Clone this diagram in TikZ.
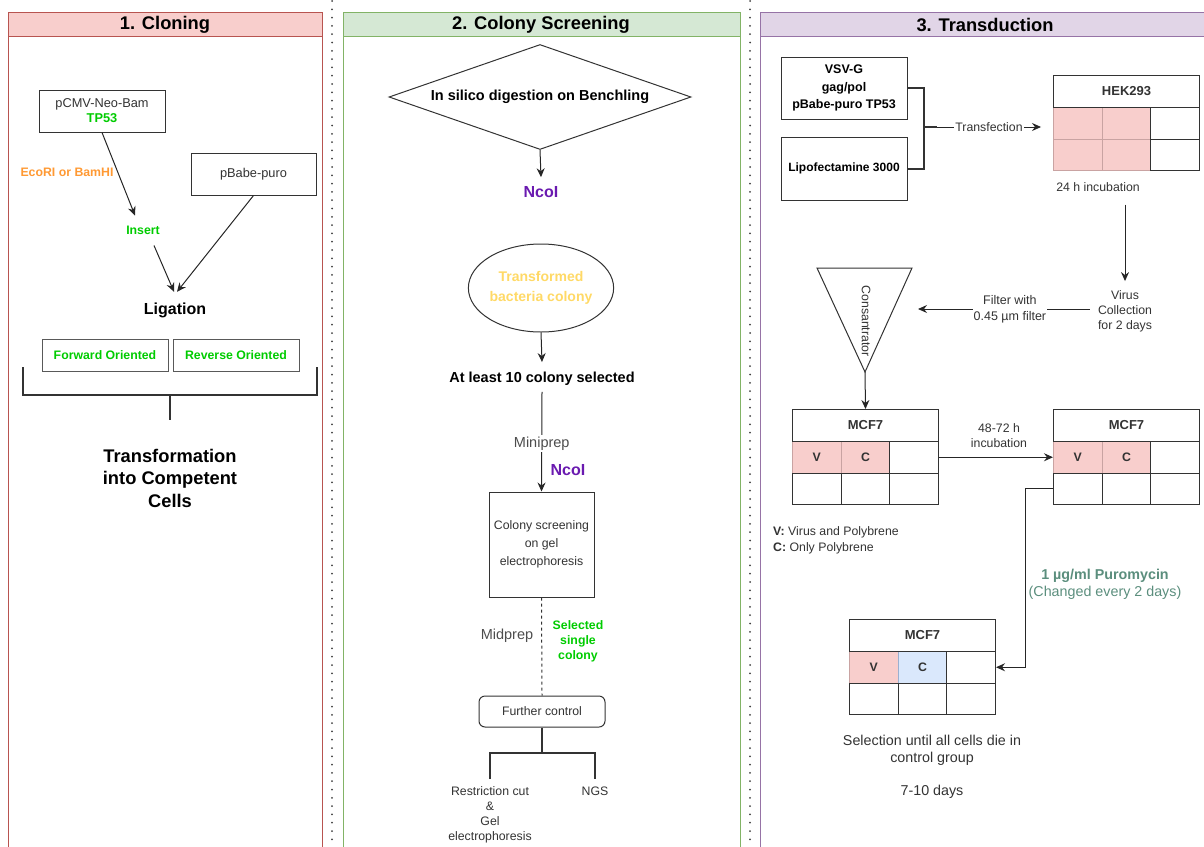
\documentclass[tikz,border=0pt]{standalone}
\usepackage{fontspec}
\setmainfont{Liberation Sans}
\usetikzlibrary{shapes.geometric,arrows.meta,calc}
\definecolor{c333}{HTML}{333333}
\definecolor{gray4d}{HTML}{4D4D4D}
\definecolor{pinkF}{HTML}{F8CECC}
\definecolor{pinkS}{HTML}{B85450}
\definecolor{greenF}{HTML}{D5E8D4}
\definecolor{greenS}{HTML}{82B366}
\definecolor{purpF}{HTML}{E1D5E7}
\definecolor{purpS}{HTML}{9673A6}
\definecolor{blueF}{HTML}{DAE8FC}
\definecolor{blueS}{HTML}{9AB0D0}
\definecolor{grn}{HTML}{00CC00}
\definecolor{orng}{HTML}{FF9933}
\definecolor{ncoi}{HTML}{6A1AB0}
\definecolor{ylw}{HTML}{FFD966}
\definecolor{puroC}{HTML}{5B8E7D}
\definecolor{wellS}{HTML}{C9A3A2}
\newcommand\fsz[2]{\fontsize{#1}{#2}\selectfont}
\begin{document}
\begin{tikzpicture}[x=1pt,y=-1pt,
  txt/.style={inner sep=0pt, align=center, text=c333, font=\fsz{12.3}{15}},
  btxt/.style={inner sep=0pt, align=center, font=\bfseries\fsz{12.3}{15}},
  box/.style={draw=c333, line width=1pt, inner sep=0pt, align=center, fill=white},
  arr/.style={draw=black!85, line width=1pt, -{Stealth[length=9pt,width=8pt,inset=3pt]}},
  tree/.style={draw=black!80, line width=2pt},
  ttl/.style={font=\bfseries\fsz{18.3}{22}, inner sep=0pt},
  hdr/.style={box, minimum width=146pt, minimum height=32pt, font=\bfseries\fsz{13}{15}, text=c333, anchor=north west},
  wc/.style={box, minimum width=48.67pt, minimum height=31.5pt, font=\bfseries\fsz{12.3}{15}, text=c333, anchor=north west},
  pk/.style={wc, fill=pinkF, draw=wellS},
  bl/.style={wc, fill=blueF, draw=blueS},
  dotsep/.style={draw=black!75, line width=2pt, line cap=round, dash pattern=on 0pt off 8.3pt}
]
\useasboundingbox (0,0) rectangle (1204,846);

% separators
\draw[dotsep] (332,1) -- (332,846);
\draw[dotsep] (750,1) -- (750,846);

% panels
\draw[pinkS, line width=1pt] (8,12) rectangle (322,852);
\filldraw[fill=pinkF, draw=pinkS, line width=1pt] (8,12) rectangle (322,36);
\node[ttl] (t1) at (165,25) {1. Cloning};
\draw[greenS, line width=1pt] (343,12) rectangle (740,852);
\filldraw[fill=greenF, draw=greenS, line width=1pt] (343,12) rectangle (740,36);
\node[ttl] (t2) at (541,25) {2. Colony Screening};
\draw[purpS, line width=1pt] (760,12) rectangle (1212,852);
\filldraw[fill=purpF, draw=purpS, line width=1pt] (760,12) rectangle (1212,36);
\node[ttl] (t3) at (985,25) {3. Transduction};

% ---------- Panel 1 ----------
\node[box, minimum width=126pt, minimum height=42pt, font=\fsz{12.8}{15}, text=c333] (pcmv) at (102,111) {pCMV-Neo-Bam\\\textcolor{grn}{\bfseries TP53}};
\node[box, minimum width=125pt, minimum height=42pt, font=\fsz{12.8}{15}, text=c333] (pbabe) at (253.5,174) {pBabe-puro};
\node[btxt, text=orng] (eco) at (67,172) {EcoRI or BamHI};
\node[btxt, text=grn] (ins) at (143,230) {Insert};
\node[inner sep=0pt, font=\bfseries\fsz{16}{19}] (lig) at (175,310.5) {Ligation};
\draw[arr] (pcmv.south) -- ([xshift=-8pt,yshift=10pt]ins.north);
\draw[arr] ([xshift=11pt,yshift=-11pt]ins.south) -- ([xshift=-1pt,yshift=11pt]lig.north);
\draw[arr] (pbabe.south) -- ([xshift=2pt,yshift=11pt]lig.north);
\node[box, draw=black!65, minimum width=126pt, minimum height=32pt, font=\bfseries\fsz{12.3}{15}, text=grn] (fwd) at (105,355) {Forward Oriented};
\node[box, draw=black!65, minimum width=126pt, minimum height=32pt, font=\bfseries\fsz{12.3}{15}, text=grn] (rev) at (236,355) {Reverse Oriented};
\node[inner sep=0pt, align=center, font=\bfseries\fsz{18.3}{22.5}] (trf) at (170,478) {Transformation\\into Competent\\Cells};
\coordinate (brl) at (23,367);
\coordinate (brr) at (317,367);
\coordinate (brk) at (170,395);
\draw[tree] (brl) |- (brr |- brk) -- (brr);
\draw[tree] (brk) -- ([yshift=29pt]trf.north);

% ---------- Panel 2 ----------
\node[draw=c333, line width=1pt, diamond, aspect=2.876, minimum width=302pt, minimum height=105pt, inner sep=0pt, font=\bfseries\fsz{14.5}{17}] (dia) at (540,97) {In silico digestion on Benchling};
\node[inner sep=0pt, text=ncoi, font=\bfseries\fsz{16}{19}] (nc1) at (541,192) {NcoI};
\draw[arr] (dia.south) -- ([yshift=9pt]nc1.north);
\node[draw=c333, line width=1pt, ellipse, minimum width=136pt, minimum height=88pt, inner sep=0pt, text=ylw, align=center, font=\bfseries\fsz{14}{20}] (ell) at (541,288) {Transformed\\bacteria colony};
\node[inner sep=0pt, font=\bfseries\fsz{14.5}{17}] (atl) at (542,379) {At least 10 colony selected};
\draw[arr] (ell.south) -- ([yshift=10pt]atl.north);
\node[box, minimum width=105pt, minimum height=105pt, font=\fsz{12.3}{18}, text=c333] (cs) at (541.5,544.5) {Colony screening\\on gel\\electrophoresis};
\draw[arr] ([yshift=-6pt]atl.south) -- (cs.north) node[pos=0.52, fill=white, inner sep=1.5pt, text=gray4d, font=\fsz{14.5}{17}] (mini) {Miniprep};
\node[inner sep=0pt, text=ncoi, font=\bfseries\fsz{16}{19}] (nc2) at (568,470) {NcoI};
\node[box, rounded corners=6pt, minimum width=126pt, minimum height=31pt, font=\fsz{12.3}{15}, text=c333] (fc) at (542,711.5) {Further control};
\draw[line width=1pt, draw=c333, dash pattern=on 3pt off 3pt] (cs.south) -- (fc.north);
\node[inner sep=0pt, text=gray4d, font=\fsz{14.5}{17}] (mid) at (507,636) {Midprep};
\node[inner sep=0pt, text=grn, align=center, font=\bfseries\fsz{12.3}{15}] (sel) at (578,641) {Selected\\single\\colony};
\node[txt] (rc) at (490,814.5) {Restriction cut\\\&\\Gel\\electrophoresis};
\node[txt] (ngs) at (595,791) {NGS};
\draw[tree] (fc.south) -- ++(0,26);
\draw[tree] ([yshift=7pt]rc.north) -- ++(0,-26) -| ([yshift=7pt]ngs.north);

% ---------- Panel 3 ----------
\node[box, minimum width=126pt, minimum height=62pt, font=\bfseries\fsz{12.5}{17.5}] (vsv) at (844,88) {VSV-G\\gag/pol\\pBabe-puro TP53};
\node[box, minimum width=126pt, minimum height=63pt, font=\bfseries\fsz{12}{15}] (lipo) at (844,168.5) {Lipofectamine 3000};
\draw[tree] (vsv.east) -- ++(16,0) |- (lipo.east);
\coordinate (tj) at (923,127);
\coordinate (tj2) at (937,127);
\coordinate (tend) at (1041,127);
\draw[tree] (tj) -- (tj2);
\draw[arr, line width=0.8pt] (tj2) -- (tend) node[midway, txt, fill=white, inner xsep=1pt, inner ysep=2pt] (tfx) {Transfection};

% HEK293 table
\node[pk] (h11) at (1053,107) {};
\node[pk] (h12) at (1101.67,107) {};
\node[pk] (h21) at (1053,138.5) {};
\node[pk] (h22) at (1101.67,138.5) {};
\node[wc] (h13) at (1150.33,107) {};
\node[wc] (h23) at (1150.33,138.5) {};
\node[hdr] (hek) at (1053,75) {HEK293};

\node[txt] (inc) at (1098,187) {24 h incubation};
\node[txt] (vc) at (1125,311) {Virus\\Collection\\for 2 days};
\draw[arr] ($(vc.north |- inc.south)+(0,13)$) -- ([yshift=9pt]vc.north);

% concentrator
\coordinate (tra) at (817,268);
\coordinate (trb) at (912,268);
\coordinate (trc) at (865,372);
\draw[line width=1pt, draw=c333, fill=white] (tra) -- (trb) -- (trc) -- cycle;
\node[txt, rotate=-90] (con) at (866,321) {Consantrator};
\coordinate (fend) at (918,309);
\draw[arr] ($(vc.west |- fend)+(-8,0)$) -- (fend) node[pos=0.465, txt, fill=white, inner xsep=1pt, inner ysep=1pt, font=\fsz{12.5}{16}] (flt) {Filter with\\0.45 µm filter};

% MCF7 table 1
\node[pk] (a11) at (792,441) {V};
\node[pk] (a12) at (840.67,441) {C};
\node[wc] (a13) at (889.33,441) {};
\node[wc] (a21) at (792,472.5) {};
\node[wc] (a22) at (840.67,472.5) {};
\node[wc] (a23) at (889.33,472.5) {};
\node[hdr] (m1h) at (792,409) {MCF7};
\draw[arr] (trc) -- (m1h.north);

% MCF7 table 2
\node[pk] (b11) at (1053,441) {V};
\node[pk] (b12) at (1101.67,441) {C};
\node[wc] (b13) at (1150.33,441) {};
\node[wc] (b21) at (1053,472.5) {};
\node[wc] (b22) at (1101.67,472.5) {};
\node[wc] (b23) at (1150.33,472.5) {};
\node[hdr] (m2h) at (1053,409) {MCF7};
\draw[arr] (a13.east) -- (b11.west);
\node[txt] (inc2) at (999,436) {48-72 h\\incubation};

% legend
\node[inner sep=0pt, align=left, anchor=west, text=c333, font=\fsz{12.3}{16}] (leg) at (773,540) {\textbf{V:} Virus and Polybrene\\\textbf{C:} Only Polybrene};

% MCF7 table 3
\node[pk] (d11) at (849,651) {V};
\node[bl] (d12) at (897.67,651) {C};
\node[wc] (d13) at (946.33,651) {};
\node[wc] (d21) at (849,682.5) {};
\node[wc] (d22) at (897.67,682.5) {};
\node[wc] (d23) at (946.33,682.5) {};
\node[hdr] (m3h) at (849,619) {MCF7};
\draw[arr] (b21.west) -- ++(-28,0) |- (d13.east);

\node[inner sep=0pt, align=center, text=puroC, font=\fsz{14.3}{17}] (puro) at (1105,584) {\textbf{1 µg/ml Puromycin}\\(Changed every 2 days)};
\node[txt, font=\fsz{14.3}{17}] (selx) at (932,750) {Selection until all cells die in\\control group};
\node[txt, font=\fsz{14.3}{17}] (days) at (932,792) {7-10 days};
\end{tikzpicture}
\end{document}
